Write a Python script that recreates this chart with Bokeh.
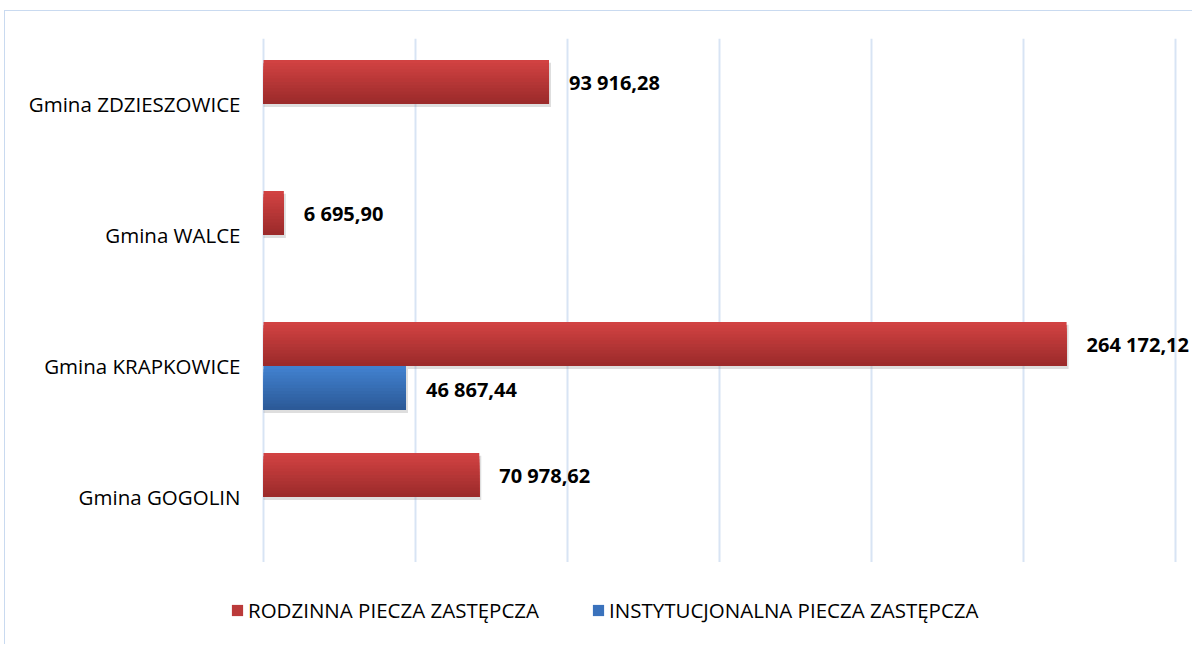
from bokeh.plotting import figure
from bokeh.layouts import column
from bokeh.models import (ColumnDataSource, FactorRange, Range1d, FixedTicker, LabelSet,
                          Legend, LegendItem)
from bokeh.core.properties import value
from bokeh.transform import dodge
from bokeh.embed import file_html
from bokeh.resources import INLINE

gminy = ["Gmina GOGOLIN", "Gmina KRAPKOWICE", "Gmina WALCE", "Gmina ZDZIESZOWICE"]
rodzinna = [70978.62, 264172.12, 6695.90, 93916.28]
instytucjonalna = [0.0, 46867.44, 0.0, 0.0]
series_names = ["RODZINNA PIECZA ZASTĘPCZA", "INSTYTUCJONALNA PIECZA ZASTĘPCZA"]
x_ticks = [0, 50000, 100000, 150000, 200000, 250000, 300000]

FONT = "Open Sans"

def fmt(v):
    return f"{v:,.2f}".replace(",", " ").replace(".", ",")

# layout constants (pixels)
AXIS_W = 912          # pixel span of 0..300000
PAD_L, PAD_R = 3, 17  # extra frame pixels left/right of the axis span
ppu = AXIS_W / x_ticks[-1]
FW = AXIS_W + PAD_L + PAD_R
LEFT = 255
TOTAL_W = LEFT + FW

p = figure(frame_width=FW, frame_height=524, y_range=FactorRange(factors=gminy),
           x_range=Range1d(-PAD_L / ppu, x_ticks[-1] + PAD_R / ppu),
           output_backend="svg", toolbar_location=None,
           min_border_left=LEFT, min_border_right=0, min_border_top=27, min_border_bottom=0)
p.outline_line_color = None
p.background_fill_color = "white"

BAR_H = 0.336
OFF = 0.168

def grad_bars(values, offset, top, bottom):
    src = ColumnDataSource(dict(g=[g for g, v in zip(gminy, values) if v > 0],
                                v=[v for v in values if v > 0]))
    p.hbar(y=dodge("g", offset - 0.022, range=p.y_range), right=dodge("v", 2 / ppu),
           left=0, height=BAR_H, source=src, fill_color="#8a8a8a", fill_alpha=0.28,
           line_color=None)
    n = 14
    bottom_edge = offset - BAR_H / 2
    for k in range(n):
        t = (k + 0.5) / n
        c = tuple(int(round(a + (b - a) * t)) for a, b in zip(top, bottom))
        col = "#%02x%02x%02x" % c
        top_edge = offset + BAR_H / 2 - k * BAR_H / n
        h = top_edge - bottom_edge
        p.hbar(y=dodge("g", bottom_edge + h / 2, range=p.y_range), right="v", left=0,
               height=h, source=src, fill_color=col, line_color=None)
    return src

red_top, red_bot = (0xd3, 0x43, 0x43), (0x9a, 0x2a, 0x2a)
blue_top, blue_bot = (0x42, 0x83, 0xd1), (0x2b, 0x58, 0x96)
src_r = grad_bars(rodzinna, OFF, red_top, red_bot)
src_b = grad_bars(instytucjonalna, -OFF, blue_top, blue_bot)

for src, off in ((src_r, OFF), (src_b, -OFF)):
    src.data["lbl"] = [fmt(v) for v in src.data["v"]]
    lab = LabelSet(x="v", y=dodge("g", off, range=p.y_range), text="lbl", source=src,
                   x_offset=20, y_offset=-1, text_baseline="middle", text_align="left",
                   text_font=value(FONT), text_font_style="bold", text_font_size="20px",
                   text_color="black")
    p.add_layout(lab)

p.xaxis.visible = False
p.xgrid.ticker = FixedTicker(ticks=x_ticks)
p.xgrid.grid_line_color = "#d8e4f4"
p.xgrid.grid_line_width = 2
p.ygrid.grid_line_color = None

p.yaxis.axis_line_color = None
p.yaxis.major_tick_line_color = None
p.yaxis.minor_tick_line_color = None
p.yaxis.major_label_standoff = 14
p.yaxis.major_label_text_font = FONT
p.yaxis.major_label_text_font_size = "20.5px"
p.yaxis.major_label_text_color = "black"

# legend strip below the plot
LEG_H = 82
lg = figure(frame_width=TOTAL_W, frame_height=LEG_H, x_range=Range1d(0, TOTAL_W),
            y_range=Range1d(0, LEG_H), output_backend="svg", toolbar_location=None,
            min_border=0)
lg.axis.visible = False
lg.grid.visible = False
lg.outline_line_color = None
swatch = ColumnDataSource(dict(y=[0], right=[0]))
d_red = lg.hbar(y="y", right="right", left=0, height=0, source=swatch,
                fill_color="#bb3a3a", line_color=None)
d_blue = lg.hbar(y="y", right="right", left=0, height=0, source=swatch,
                 fill_color="#3a72bc", line_color=None)
legend = Legend(items=[LegendItem(label=series_names[0], renderers=[d_red]),
                       LegendItem(label=series_names[1], renderers=[d_blue])],
                orientation="horizontal", location=(225, 20),
                label_text_font=FONT, label_text_font_size="20.5px",
                label_text_color="black", label_height=24,
                glyph_width=14, glyph_height=14, label_standoff=4, spacing=52,
                border_line_color=None, background_fill_alpha=0, margin=0, padding=0)
lg.add_layout(legend, "center")

layout = column(p, lg, spacing=0)
layout.styles = {"border-left": "1px solid #c9daf0", "border-top": "1px solid #c9daf0",
                 "margin-left": "4px", "margin-top": "10px"}

open("out.html", "w").write(file_html(layout, INLINE))
